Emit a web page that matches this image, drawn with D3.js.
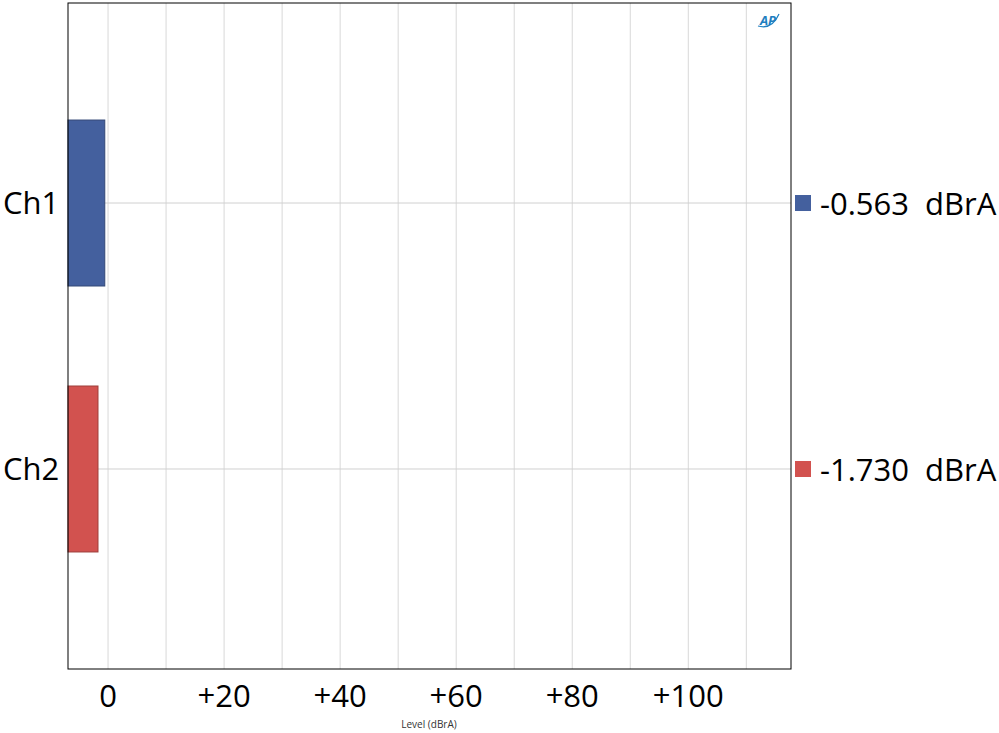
<!DOCTYPE html>
<html><head><meta charset="utf-8">
<script src="https://cdn.jsdelivr.net/npm/d3@7"></script>
<style>body{margin:0;background:#fff}</style>
</head><body>
<svg id="c" width="999" height="733"></svg>
<script>
const channels = ["Ch1", "Ch2"];
const levels = [-0.563, -1.730];
const colors = ["#44609e", "#d2524f"];
const ticks = [0, 20, 40, 60, 80, 100];

const m = {left: 68, right: 791, top: 3, bottom: 669};
const svg = d3.select("#c");
const font = "'Open Sans', 'Noto Sans', sans-serif";

const x = d3.scaleLinear().domain([-6.9, 117.7]).range([m.left, m.right]);
const y = d3.scaleBand().domain(channels).range([m.top, m.bottom])
  .paddingInner(0.376).paddingOuter(0.44);

// grid
svg.append("g").selectAll("line").data(d3.range(0, 111, 10)).join("line")
  .attr("x1", d => x(d)).attr("x2", d => x(d))
  .attr("y1", m.top).attr("y2", m.bottom)
  .attr("stroke", "#d8d8d8").attr("stroke-width", 1);
svg.append("g").selectAll("line").data(channels).join("line")
  .attr("x1", m.left).attr("x2", m.right)
  .attr("y1", d => y(d) + y.bandwidth() / 2).attr("y2", d => y(d) + y.bandwidth() / 2)
  .attr("stroke", "#d0d0d0");

// bars
svg.append("g").selectAll("rect").data(channels).join("rect")
  .attr("x", x.range()[0]).attr("y", d => y(d))
  .attr("width", (d, i) => x(levels[i]) - x.range()[0])
  .attr("height", y.bandwidth())
  .attr("fill", (d, i) => colors[i])
  .attr("stroke", (d, i) => d3.color(colors[i]).darker(0.8))
  .attr("stroke-width", 1);

// frame
svg.append("rect").attr("x", m.left).attr("y", m.top)
  .attr("width", m.right - m.left).attr("height", m.bottom - m.top)
  .attr("fill", "none").attr("stroke", "#000").attr("stroke-width", 1);

// x tick labels
svg.append("g").selectAll("text").data(ticks).join("text")
  .attr("x", d => x(d)).attr("y", 707)
  .attr("text-anchor", "middle").attr("font-family", font).attr("font-size", 31)
  .text(d => d === 0 ? "0" : "+" + d);

svg.append("text").attr("x", 429).attr("y", 728).attr("text-anchor", "middle")
  .attr("font-family", font).attr("font-size", 10).attr("fill", "#333").text("Level (dBrA)");

// category labels
svg.append("g").selectAll("text").data(channels).join("text")
  .attr("x", 3).attr("y", d => y(d) + y.bandwidth() / 2 + 11)
  .attr("font-family", font).attr("font-size", 31).text(d => d);

// value legend
const lg = svg.append("g").selectAll("g").data(channels).join("g")
  .attr("transform", d => `translate(795,${y(d) + y.bandwidth() / 2})`);
lg.append("rect").attr("x", 0).attr("y", -8).attr("width", 16).attr("height", 16)
  .attr("fill", (d, i) => colors[i]);
lg.append("text").attr("x", 25).attr("y", 12).attr("font-family", font).attr("font-size", 31)
  .attr("xml:space", "preserve")
  .text((d, i) => levels[i].toFixed(3) + "  dBrA");

// AP logo
svg.append("text").attr("x", 768).attr("y", 25).attr("text-anchor", "middle")
  .attr("font-family", font).attr("font-size", 13).attr("font-weight", "bold")
  .attr("font-style", "italic").attr("fill", "#1f7fc0").text("AP");
svg.append("path").attr("d", "M758,26 Q772,30 779,14").attr("fill", "none")
  .attr("stroke", "#1f7fc0").attr("stroke-width", 1.2);
</script>
</body></html>
